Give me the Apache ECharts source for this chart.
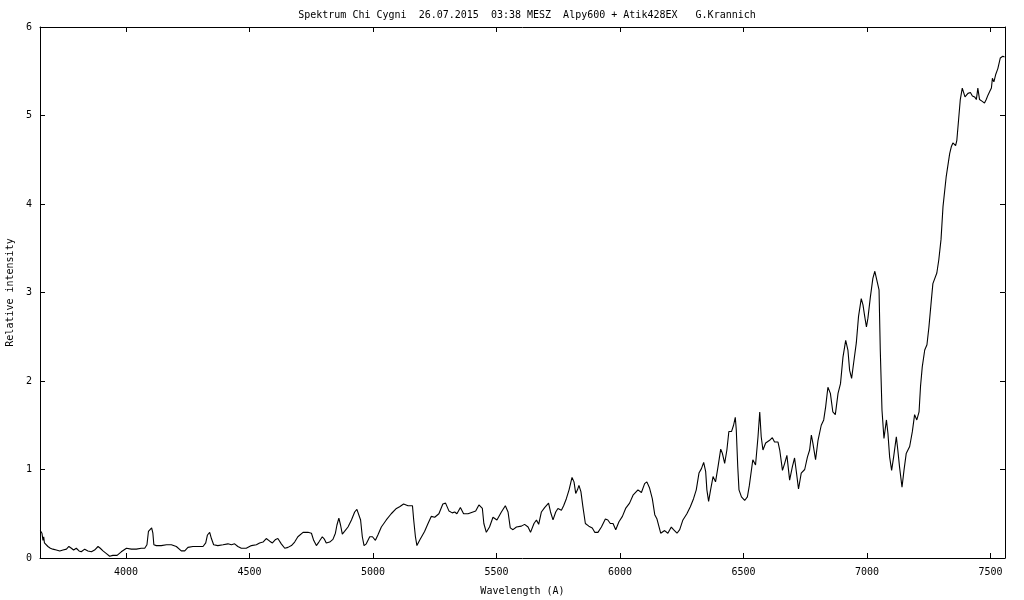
<!DOCTYPE html>
<html>
<head>
<meta charset="utf-8">
<script src="https://cdn.jsdelivr.net/npm/echarts@6/dist/echarts.min.js"></script>
<style>html,body{margin:0;padding:0;background:#fff}#c{width:1024px;height:600px}</style>
</head>
<body>
<div id="c"></div>
<script>
var titleText = 'Spektrum Chi Cygni  26.07.2015  03:38 MESZ  Alpy600 + Atik428EX   G.Krannich';
var xName = 'Wavelength (A)';
var yName = 'Relative intensity';
var xTicks = [4000, 4500, 5000, 5500, 6000, 6500, 7000, 7500];
var yTicks = [0, 1, 2, 3, 4, 5, 6];

var wavelength = [
3653,3660,3664,3667,3670,3675,3684,3694,3704,3718,3732,3745,3759,3769,3779,3788,3799,3810,3819,3833,
3846,3860,3873,3887,3896,3907,3921,3934,3947,3964,3981,4002,4022,4042,4062,4076,4085,4091,4099,4104,
4109,4113,4123,4143,4164,4184,4204,4224,4238,4251,4271,4291,4312,4323,4330,4339,4346,4355,4372,4393,
4413,4427,4440,4453,4467,4487,4508,4528,4541,4555,4568,4582,4593,4606,4615,4629,4643,4656,4670,4683,
4696,4717,4737,4751,4760,4771,4781,4795,4804,4811,4825,4838,4848,4854,4862,4869,4876,4885,4899,4913,
4926,4935,4943,4950,4957,4964,4973,4987,4998,5010,5020,5034,5054,5074,5095,5108,5124,5142,5160,5165,
5172,5178,5189,5209,5223,5236,5250,5267,5283,5294,5308,5321,5331,5340,5354,5367,5385,5405,5416,5429,
5443,5449,5459,5472,5486,5502,5520,5536,5547,5556,5567,5581,5601,5614,5628,5638,5652,5662,5671,5682,
5695,5711,5719,5729,5740,5749,5763,5772,5783,5794,5806,5814,5821,5828,5834,5842,5850,5860,5874,5888,
5898,5911,5925,5941,5951,5961,5972,5983,5996,6010,6023,6039,6053,6073,6087,6100,6109,6120,6131,6141,
6150,6157,6165,6181,6194,6208,6217,6231,6242,6255,6271,6285,6298,6309,6320,6330,6339,6347,6352,6359,
6367,6377,6387,6397,6408,6415,6424,6433,6441,6452,6460,6467,6471,6477,6482,6492,6505,6516,6524,6538,
6549,6559,6566,6572,6579,6590,6606,6617,6626,6640,6647,6658,6667,6676,6687,6698,6707,6714,6723,6734,
6748,6759,6768,6775,6781,6792,6802,6815,6825,6833,6842,6852,6862,6872,6883,6893,6903,6914,6923,6930,
6938,6946,6957,6966,6977,6984,6991,6998,7004,7014,7024,7032,7040,7049,7054,7061,7069,7079,7085,7092,
7100,7108,7119,7125,7132,7142,7150,7159,7173,7184,7193,7202,7211,7217,7224,7234,7243,7251,7261,7267,
7274,7283,7291,7300,7308,7321,7335,7342,7348,7359,7364,7371,7378,7386,7391,7397,7402,7409,7419,7427,
7436,7443,7449,7456,7467,7476,7483,7490,7497,7504,7508,7514,7521,7530,7540,7550,7557
];
var intensity = [
0.31,0.28,0.20,0.24,0.17,0.17,0.13,0.11,0.10,0.09,0.08,0.09,0.10,0.13,0.11,0.09,0.11,0.08,0.07,0.10,
0.08,0.07,0.09,0.13,0.11,0.08,0.05,0.02,0.03,0.03,0.07,0.11,0.10,0.10,0.11,0.11,0.15,0.30,0.32,0.34,
0.28,0.15,0.14,0.14,0.15,0.15,0.13,0.08,0.08,0.12,0.13,0.13,0.13,0.17,0.26,0.29,0.22,0.15,0.14,0.15,
0.16,0.15,0.16,0.13,0.11,0.11,0.14,0.15,0.17,0.18,0.22,0.19,0.17,0.21,0.22,0.16,0.11,0.12,0.14,0.18,
0.24,0.29,0.29,0.28,0.20,0.14,0.18,0.24,0.21,0.17,0.18,0.21,0.28,0.37,0.45,0.37,0.27,0.30,0.35,0.43,
0.52,0.55,0.54,0.43,0.24,0.14,0.16,0.24,0.24,0.20,0.26,0.35,0.43,0.50,0.56,0.58,0.61,0.59,0.59,0.43,
0.24,0.14,0.20,0.30,0.39,0.47,0.46,0.50,0.61,0.62,0.53,0.51,0.52,0.50,0.57,0.50,0.50,0.52,0.53,0.60,
0.56,0.39,0.29,0.35,0.46,0.43,0.52,0.59,0.52,0.34,0.32,0.35,0.36,0.38,0.35,0.29,0.39,0.43,0.38,0.52,
0.57,0.62,0.52,0.43,0.52,0.56,0.54,0.59,0.67,0.77,0.91,0.86,0.73,0.77,0.82,0.75,0.58,0.39,0.36,0.34,
0.29,0.29,0.35,0.44,0.43,0.39,0.39,0.32,0.41,0.47,0.56,0.62,0.71,0.77,0.74,0.84,0.86,0.79,0.67,0.49,
0.44,0.43,0.28,0.31,0.28,0.35,0.32,0.28,0.32,0.43,0.50,0.58,0.67,0.77,0.96,1.01,1.08,0.98,0.77,0.64,
0.77,0.92,0.86,1.03,1.23,1.18,1.07,1.22,1.43,1.43,1.50,1.59,1.45,1.03,0.77,0.69,0.65,0.69,0.82,1.11,
1.05,1.37,1.65,1.37,1.22,1.30,1.33,1.36,1.31,1.31,1.22,0.99,1.07,1.16,0.88,1.03,1.13,0.98,0.78,0.96,
1.00,1.14,1.22,1.39,1.30,1.11,1.33,1.50,1.56,1.71,1.93,1.86,1.65,1.62,1.86,1.97,2.27,2.46,2.35,2.12,
2.03,2.20,2.43,2.73,2.93,2.86,2.73,2.61,2.71,2.95,3.16,3.24,3.22,3.03,2.35,1.67,1.35,1.56,1.41,1.14,
0.99,1.14,1.37,1.22,1.03,0.80,0.99,1.18,1.26,1.43,1.62,1.56,1.65,1.94,2.16,2.35,2.41,2.61,2.92,3.10,
3.12,3.22,3.37,3.60,3.97,4.31,4.57,4.65,4.69,4.66,4.72,4.95,5.18,5.31,5.33,5.21,5.19,5.25,5.26,5.22,
5.21,5.18,5.31,5.18,5.16,5.14,5.18,5.23,5.27,5.31,5.42,5.38,5.46,5.53,5.65,5.67,5.66
];

var FONT = 'DejaVu Sans Mono';
var points = wavelength.map(function (w, i) { return [w, intensity[i]]; });
var black = '#000';
var plain = function (v) { return String(v); };

var chart = echarts.init(document.getElementById('c'), null, { renderer: 'canvas' });
chart.setOption({
  animation: false,
  backgroundColor: '#fff',
  title: {
    text: titleText,
    left: 522, top: 5, textAlign: 'center',
    textStyle: { fontFamily: FONT, fontSize: 10, fontWeight: 'normal', color: black }
  },
  grid: { left: 40, right: 19, top: 27, bottom: 42, containLabel: false, outerBoundsMode: 'none' },
  xAxis: [{
    type: 'value', position: 'bottom', min: 3652, max: 7559,
    name: xName, nameLocation: 'middle', nameGap: 28,
    nameTextStyle: { fontFamily: FONT, fontSize: 10, color: black },
    axisLine: { show: true, onZero: false, lineStyle: { color: black, width: 1 } },
    axisTick: { show: true, inside: true, length: 5, customValues: xTicks, lineStyle: { color: black } },
    axisLabel: { show: true, customValues: xTicks, margin: 9, fontFamily: FONT, fontSize: 10, color: black, formatter: plain },
    splitLine: { show: false }
  }, {
    type: 'value', position: 'top', min: 3652, max: 7559,
    axisLine: { show: true, onZero: false, lineStyle: { color: black, width: 1 } },
    axisTick: { show: true, inside: true, length: 5, customValues: xTicks, lineStyle: { color: black } },
    axisLabel: { show: false },
    splitLine: { show: false }
  }],
  yAxis: [{
    type: 'value', position: 'left', min: 0, max: 6, interval: 1,
    name: yName, nameLocation: 'middle', nameGap: 25, nameRotate: 90,
    nameTextStyle: { fontFamily: FONT, fontSize: 10, color: black },
    axisLine: { show: true, onZero: false, lineStyle: { color: black, width: 1 } },
    axisTick: { show: true, inside: true, length: 5, lineStyle: { color: black } },
    axisLabel: { show: true, margin: 8, fontFamily: FONT, fontSize: 10, color: black, formatter: plain },
    splitLine: { show: false }
  }, {
    type: 'value', position: 'right', min: 0, max: 6, interval: 1,
    axisLine: { show: true, onZero: false, lineStyle: { color: black, width: 1 } },
    axisTick: { show: true, inside: true, length: 5, lineStyle: { color: black } },
    axisLabel: { show: false },
    splitLine: { show: false }
  }],
  series: [{
    type: 'line',
    xAxisIndex: 0, yAxisIndex: 0,
    data: points,
    showSymbol: false,
    symbol: 'none',
    lineStyle: { color: black, width: 1.1 },
    silent: true
  }]
});
</script>
</body>
</html>
